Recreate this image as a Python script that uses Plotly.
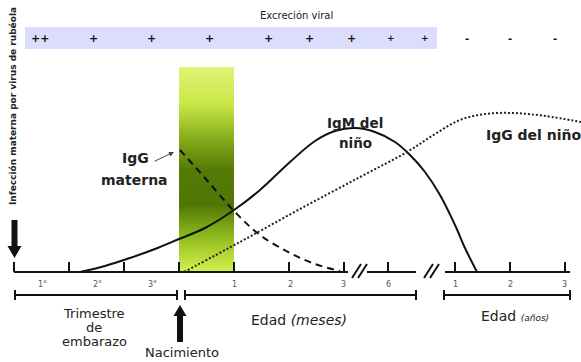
import plotly.graph_objects as go

# ---------------------------------------------------------------------------
# Data: antibody curves (x = timeline position, y = relative level above axis)
# ---------------------------------------------------------------------------
igm_nino_x = [80, 105, 130, 155, 179, 205, 234, 260, 290, 315, 335, 355, 375,
              395, 410, 425, 440, 455, 465, 477]
igm_nino_y = [0, 6, 14, 23, 33, 44, 62, 82, 110, 131, 141, 144, 140,
              130, 117, 100, 77, 47, 24, 0]

igg_materna_x = [180, 205, 234, 260, 290, 315, 340]
igg_materna_y = [122, 94, 61, 37, 19, 8, 1]

igg_nino_x = [184, 240, 300, 360, 407, 435, 460, 485, 513, 545, 581]
igg_nino_y = [0, 30, 63, 95, 120, 138, 152, 158, 159, 156, 150]

# Viral shedding markers along the top band
excrecion_x = [40, 93, 151, 209, 268, 309, 351, 391, 425, 467, 510, 555]
excrecion_txt = ["++", "+", "+", "+", "+", "+", "+", "+", "+", "-", "-", "-"]
excrecion_size = [11, 11, 11, 11, 11, 11, 11, 9, 9, 10, 10, 10]

# Timeline ticks and labels
tick_x = [14, 69, 124, 179, 234, 289, 344, 388, 455, 510, 565]
tick_label_x = [42, 97, 152, 234, 290, 343, 388, 455, 510, 564]
tick_labels = ["1°", "2°", "3°", "1", "2", "3", "6", "1", "2", "3"]

# Axis segments (interrupted by breaks) and period brackets
axis_segments = [(14, 348), (367, 416), (445, 570)]
brackets = [(15, 177), (185, 416), (444, 570)]
breaks_x = [352, 424]

# Neonatal window highlight
window_x0, window_x1 = 179, 234

BASE = 272  # page row of the time axis


def Y(py):
    """Convert a page row to the level scale used by the y axis."""
    return BASE - py


fig = go.Figure()
shapes = []
annotations = []

# --- Neonatal window with vertical colour gradient -------------------------
stops = [(67, (226, 243, 118)), (105, (200, 230, 70)), (140, (130, 170, 26)),
         (170, (84, 122, 6)), (205, (80, 118, 6)), (235, (140, 185, 28)),
         (272, (214, 242, 78))]


def grad(py):
    for (a, ca), (b, cb) in zip(stops[:-1], stops[1:]):
        if a <= py <= b:
            t = (py - a) / (b - a)
            return tuple(int(round(ca[i] + (cb[i] - ca[i]) * t)) for i in range(3))
    return stops[-1][1]


for py in range(67, 272):
    r, g, b = grad(py + 0.5)
    shapes.append(dict(type="rect", xref="x", yref="y", x0=window_x0, x1=window_x1,
                       y0=Y(py), y1=Y(py + 1.05), line=dict(width=0),
                       fillcolor=f"rgb({r},{g},{b})", layer="below"))

# --- Viral shedding band ---------------------------------------------------
shapes.append(dict(type="rect", xref="x", yref="y", x0=25, x1=437, y0=Y(27), y1=Y(49),
                   line=dict(width=0), fillcolor="#dcdcfc", layer="below"))
annotations.append(dict(x=296, y=Y(15), text="Excreción viral", showarrow=False,
                        font=dict(family="DejaVu Sans", size=10, color="#222")))
for x, t, s in zip(excrecion_x, excrecion_txt, excrecion_size):
    annotations.append(dict(x=x, y=Y(38), text=f"<b>{t}</b>", showarrow=False,
                            font=dict(family="DejaVu Sans", size=s, color="#111")))

# --- Curves ----------------------------------------------------------------
fig.add_trace(go.Scatter(x=igm_nino_x, y=igm_nino_y, mode="lines", line_shape="spline",
                         line=dict(color="#111", width=2), hoverinfo="skip"))
fig.add_trace(go.Scatter(x=igg_materna_x, y=igg_materna_y, mode="lines", line_shape="spline",
                         line=dict(color="#111", width=2, dash="7px,5px"), hoverinfo="skip"))
fig.add_trace(go.Scatter(x=igg_nino_x, y=igg_nino_y, mode="lines", line_shape="spline",
                         line=dict(color="#222", width=2, dash="2px,2px"), hoverinfo="skip"))

# --- Time axis ---------------------------------------------------------------
for a, b in axis_segments:
    shapes.append(dict(type="line", xref="x", yref="y", x0=a, x1=b, y0=0, y1=0,
                       line=dict(color="#111", width=2)))
for x in tick_x:
    shapes.append(dict(type="line", xref="x", yref="y", x0=x, x1=x, y0=0, y1=Y(262),
                       line=dict(color="#111", width=2)))
for bx in breaks_x:
    for off in (0, 6):
        shapes.append(dict(type="line", xref="x", yref="y", x0=bx + off, x1=bx + off + 9,
                           y0=Y(278), y1=Y(264), line=dict(color="#111", width=2)))
for x, t in zip(tick_label_x, tick_labels):
    annotations.append(dict(x=x, y=Y(284), text=t, showarrow=False,
                            font=dict(family="DejaVu Sans", size=8, color="#555")))

# --- Period brackets -------------------------------------------------------
for a, b in brackets:
    shapes.append(dict(type="line", xref="x", yref="y", x0=a, x1=b, y0=Y(295), y1=Y(295),
                       line=dict(color="#111", width=2)))
    for x in (a, b):
        shapes.append(dict(type="line", xref="x", yref="y", x0=x, x1=x, y0=Y(290), y1=Y(300),
                           line=dict(color="#111", width=2)))

# --- Arrows ----------------------------------------------------------------
def arrow_path(xc, tip, base, tail, shaft_hw, head_hw):
    return (f"M{xc - shaft_hw},{Y(tail)} L{xc + shaft_hw},{Y(tail)} "
            f"L{xc + shaft_hw},{Y(base)} L{xc + head_hw},{Y(base)} L{xc},{Y(tip)} "
            f"L{xc - head_hw},{Y(base)} L{xc - shaft_hw},{Y(base)} Z")


shapes.append(dict(type="path", xref="x", yref="y", path=arrow_path(14.5, 258, 246, 220, 3, 7),
                   fillcolor="#111", line=dict(width=0)))
shapes.append(dict(type="path", xref="x", yref="y", path=arrow_path(180, 305, 316, 342, 3, 6.5),
                   fillcolor="#111", line=dict(width=0)))

# pointer to maternal IgG
annotations.append(dict(x=174, y=Y(152), ax=153, ay=Y(162), xref="x", yref="y",
                        axref="x", ayref="y", text="", showarrow=True, arrowhead=2,
                        arrowsize=1, arrowwidth=1, arrowcolor="#444"))

# --- Text labels -----------------------------------------------------------
bold = dict(family="DejaVu Sans", size=14, color="#222")
reg = dict(family="DejaVu Sans", size=13, color="#222")
annotations += [
    dict(x=135, y=Y(158), text="<b>IgG</b>", showarrow=False, font=bold),
    dict(x=134, y=Y(180), text="<b>materna</b>", showarrow=False, font=bold),
    dict(x=355, y=Y(123), text="<b>IgM del</b>", showarrow=False, font=dict(bold, size=13.5)),
    dict(x=355, y=Y(143), text="<b>niño</b>", showarrow=False, font=dict(bold, size=13.5)),
    dict(x=534, y=Y(135), text="<b>IgG del niño</b>", showarrow=False, font=bold),
    dict(x=13, y=Y(106), text="<b>Infección materna por virus de rubéola</b>", textangle=-90,
         showarrow=False, font=dict(family="DejaVu Sans", size=9, color="#222")),
    dict(x=94, y=Y(313), text="Trimestre", showarrow=False, font=reg),
    dict(x=94, y=Y(327), text="de", showarrow=False, font=reg),
    dict(x=94, y=Y(341), text="embarazo", showarrow=False, font=reg),
    dict(x=299, y=Y(320), text="Edad <i>(meses)</i>", showarrow=False,
         font=dict(family="DejaVu Sans", size=14, color="#222")),
    dict(x=515, y=Y(316), text="Edad <i><span style='font-size:9px'>(años)</span></i>",
         showarrow=False, font=dict(family="DejaVu Sans", size=14, color="#222")),
    dict(x=182, y=Y(352), text="Nacimiento", showarrow=False, font=reg),
]

fig.update_layout(
    width=581, height=362,
    margin=dict(l=0, r=0, t=0, b=0),
    paper_bgcolor="white", plot_bgcolor="white",
    showlegend=False,
    xaxis=dict(range=[0, 581], visible=False, fixedrange=True),
    yaxis=dict(range=[Y(362), Y(0)], visible=False, fixedrange=True),
    shapes=shapes,
    annotations=annotations,
)

fig.write_html("out.html", config={"displayModeBar": False})
